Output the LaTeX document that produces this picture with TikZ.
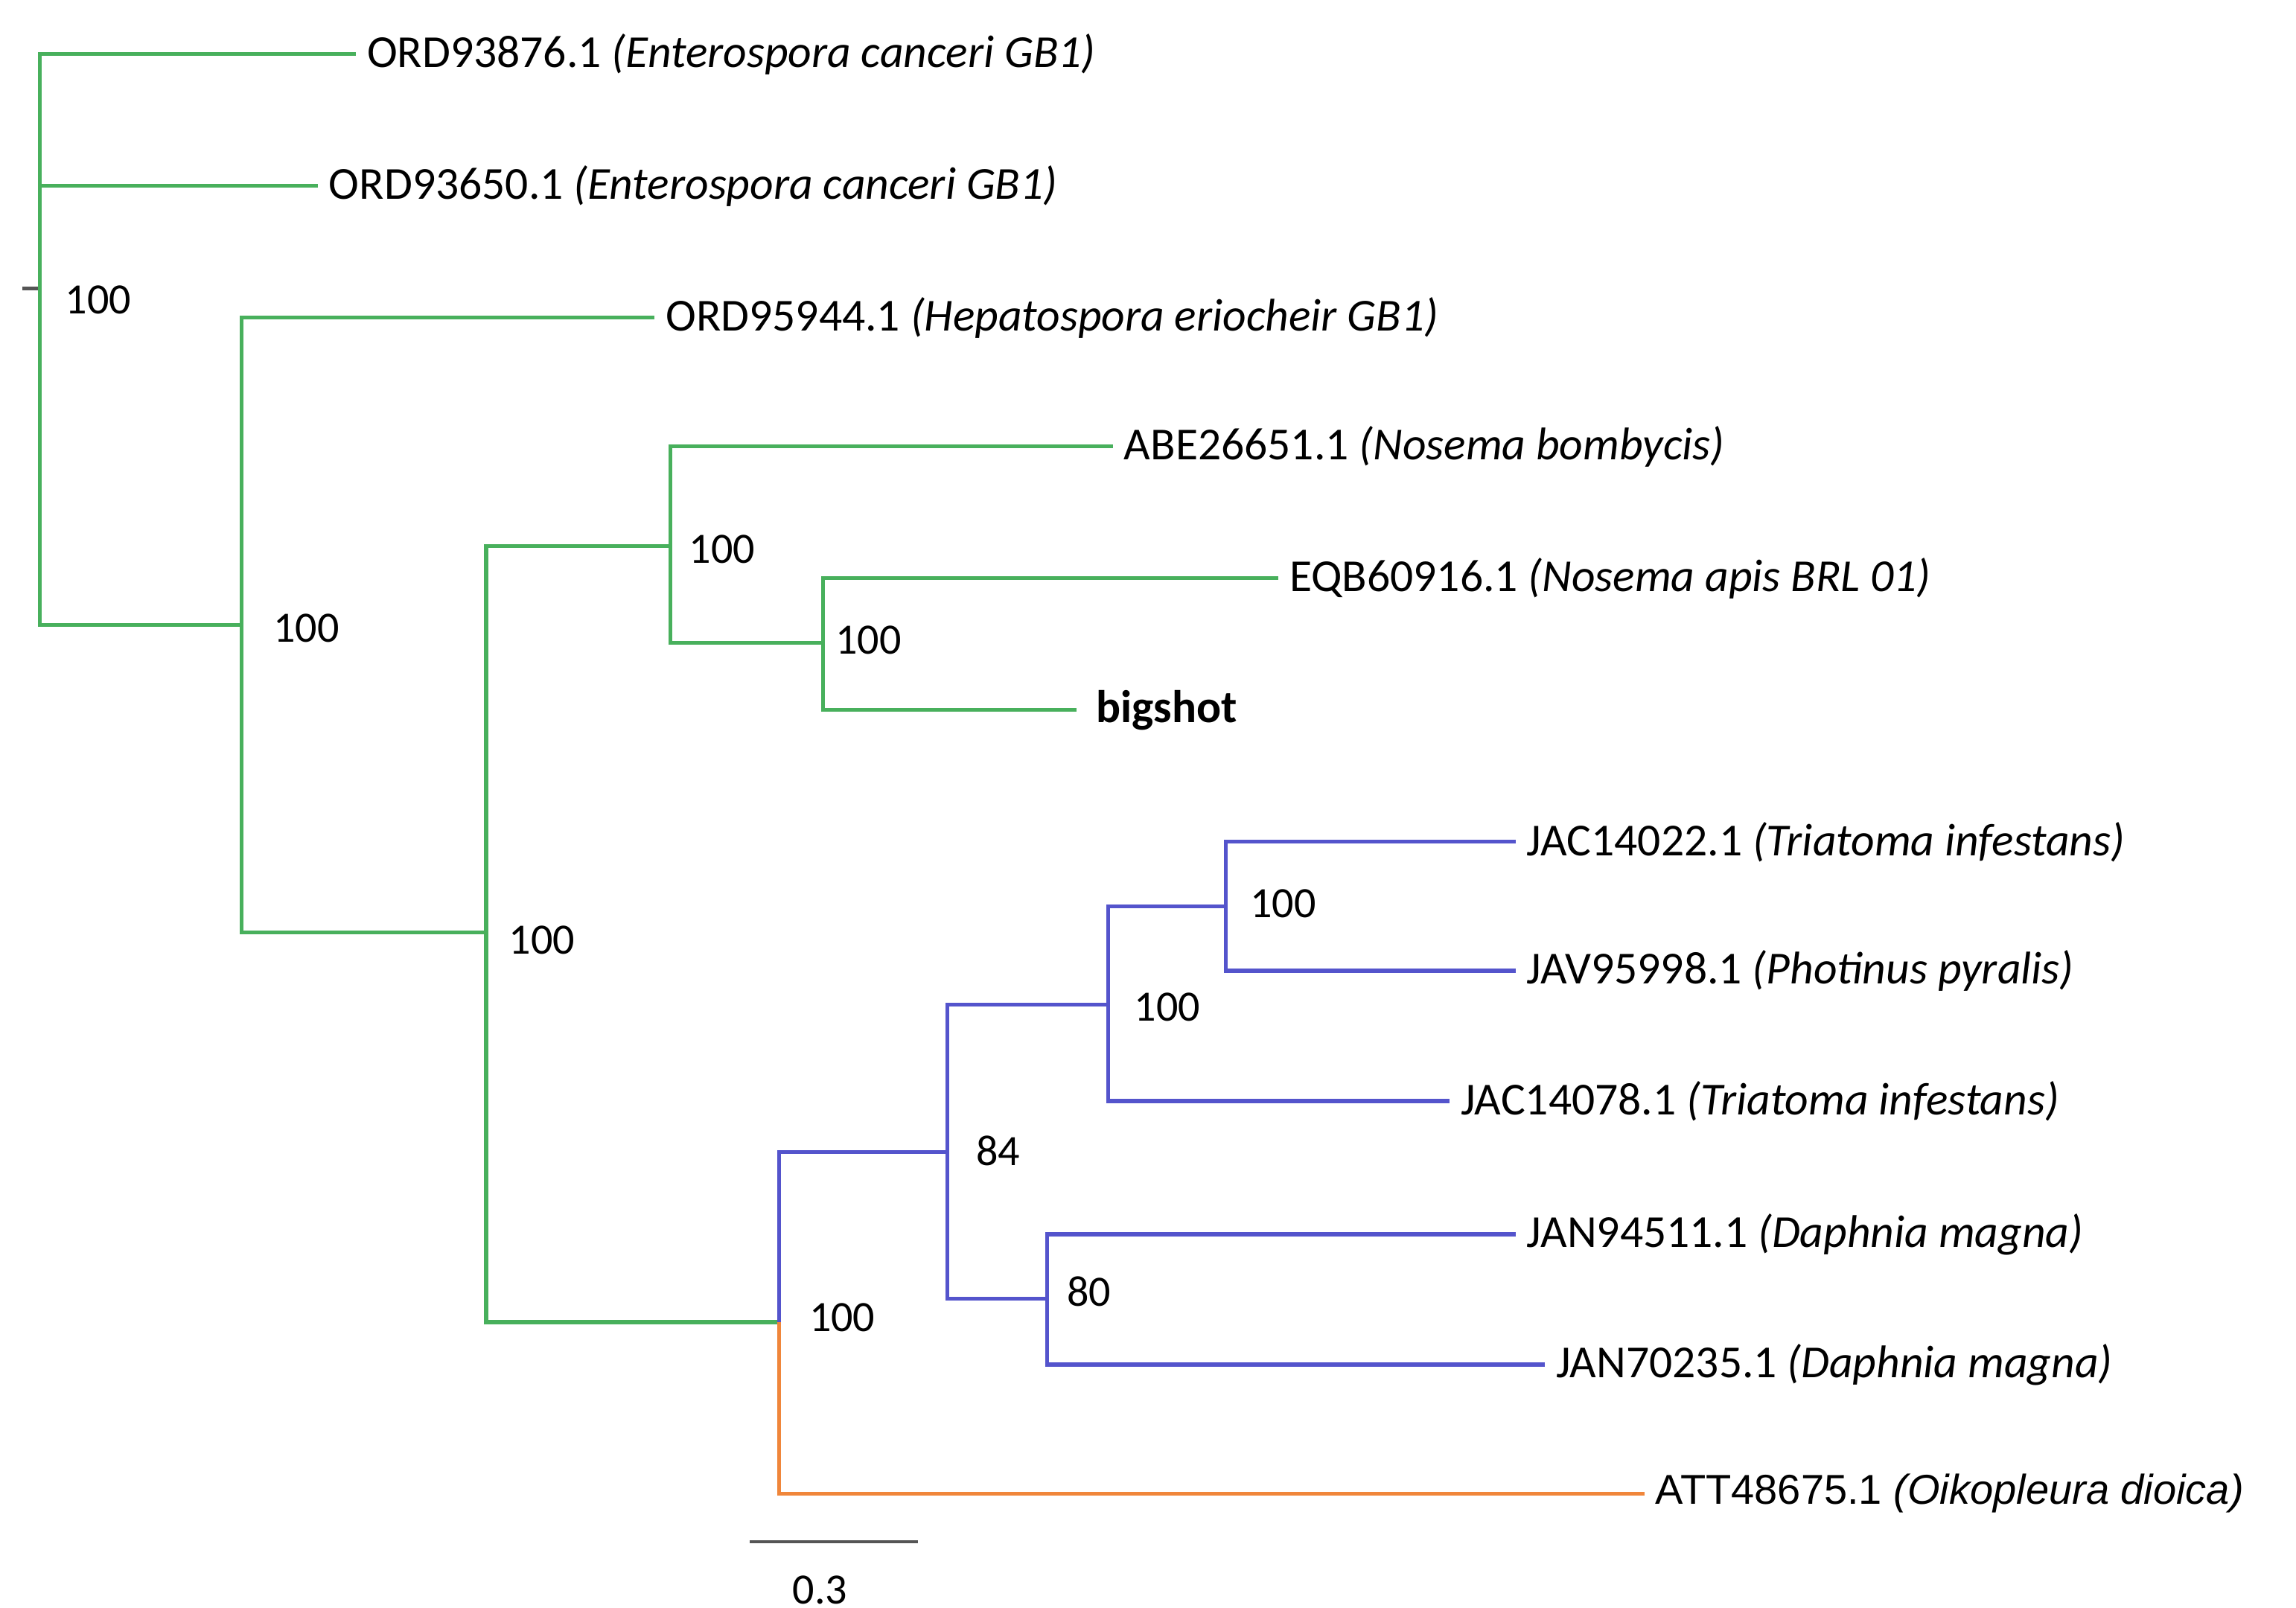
\documentclass[tikz,border=0pt]{standalone}
\usepackage{fontspec}
\setmainfont{Carlito}
\newfontfamily\arialfont{Liberation Sans}
\usepackage{xcolor}

\definecolor{cladegreen}{RGB}{72,176,92}
\definecolor{cladeblue}{RGB}{84,84,204}
\definecolor{cladeorange}{RGB}{240,134,58}
\definecolor{bargray}{RGB}{85,85,85}

\begin{document}
\begin{tikzpicture}[x=0.01cm, y=-0.01cm,
  font=\fontsize{8.4}{10}\selectfont,
  branch/.style={line width=0.75pt},
  leaf/.style={anchor=west, inner sep=0.07cm, font=\fontsize{8.9}{10}\selectfont},
  boot/.style={anchor=west, inner sep=0pt}]
  \useasboundingbox (0,0) rectangle (1568,1098);
  % internal nodes
  \coordinate (r) at (27,197);
  \coordinate (nA) at (165,427);
  \coordinate (nB) at (332,637);
  \coordinate (nC) at (458,373);
  \coordinate (nD) at (562,439);
  \coordinate (nE) at (532,903);
  \coordinate (nF) at (647,787);
  \coordinate (nG) at (757,686);
  \coordinate (nH) at (837,619);
  \coordinate (nI) at (715,887);
  % leaves
  \node[leaf] (l1) at (243,37) {ORD93876.1 \textit{(Enterospora canceri GB1)}};
  \node[leaf] (l2) at (217,127) {ORD93650.1 \textit{(Enterospora canceri GB1)}};
  \node[leaf] (l3) at (447,217) {ORD95944.1 \textit{(Hepatospora eriocheir GB1)}};
  \node[leaf] (l4) at (760,305) {ABE26651.1 \textit{(Nosema bombycis)}};
  \node[leaf] (l5) at (873,395) {EQB60916.1 \textit{(Nosema apis BRL 01)}};
  \node[leaf, xshift=0.06cm] (l6) at (735,485) {\textbf{bigshot}};
  \node[leaf] (l7) at (1035,575) {JAC14022.1 \textit{(Triatoma infestans)}};
  \node[leaf] (l8) at (1035,663) {JAV95998.1 \textit{(Photinus pyralis)}};
  \node[leaf] (l9) at (990,752) {JAC14078.1 \textit{(Triatoma infestans)}};
  \node[leaf] (l10) at (1035,843) {JAN94511.1 \textit{(Daphnia magna)}};
  \node[leaf] (l11) at (1055,932) {JAN70235.1 \textit{(Daphnia magna)}};
  \node[leaf, font=\arialfont\fontsize{8.1}{10}\selectfont] (l12) at (1123,1020) {ATT48675.1 \textit{(Oikopleura dioica)}};
  % root stub
  \draw[branch, bargray] (15,197) -- (r);
  % green clade
  \draw[branch, cladegreen] (r) |- (l1.west);
  \draw[branch, cladegreen] (r) |- (l2.west);
  \draw[branch, cladegreen] (r) |- (nA);
  \draw[branch, cladegreen] (nA) |- (l3.west);
  \draw[branch, cladegreen] (nA) |- (nB);
  \draw[branch, cladegreen] (nB) |- (nC);
  \draw[branch, cladegreen] (nB) |- (nE);
  \draw[branch, cladegreen] (nC) |- (l4.west);
  \draw[branch, cladegreen] (nC) |- (nD);
  \draw[branch, cladegreen] (nD) |- (l5.west);
  \draw[branch, cladegreen] (nD) |- ([xshift=-0.06cm]l6.west);
  % blue clade
  \draw[branch, cladeblue] (nE) |- (nF);
  \draw[branch, cladeblue] (nF) |- (nG);
  \draw[branch, cladeblue] (nF) |- (nI);
  \draw[branch, cladeblue] (nG) |- (nH);
  \draw[branch, cladeblue] (nG) |- (l9.west);
  \draw[branch, cladeblue] (nH) |- (l7.west);
  \draw[branch, cladeblue] (nH) |- (l8.west);
  \draw[branch, cladeblue] (nI) |- (l10.west);
  \draw[branch, cladeblue] (nI) |- (l11.west);
  % orange outgroup
  \draw[branch, cladeorange] (nE) |- (l12.west);
  % bootstrap values
  \node[boot] (br) at (44,205) {100};
  \node[boot] (bA) at (186,429) {100};
  \node[boot] (bB) at (347,642) {100};
  \node[boot] (bC) at (470,375) {100};
  \node[boot] (bD) at (570,437) {100};
  \node[boot] (bE) at (552,900) {100};
  \node[boot] (bF) at (666,786) {84};
  \node[boot] (bG) at (774,688) {100};
  \node[boot] (bH) at (853,617) {100};
  \node[boot] (bI) at (728,882) {80};
  % scale bar
  \coordinate (s0) at (512,1053);
  \coordinate (s1) at (627,1053);
  \draw[line width=0.6pt, bargray] (s0) -- (s1);
  \node (scl) at (560,1086) {0.3};
\end{tikzpicture}
\end{document}
